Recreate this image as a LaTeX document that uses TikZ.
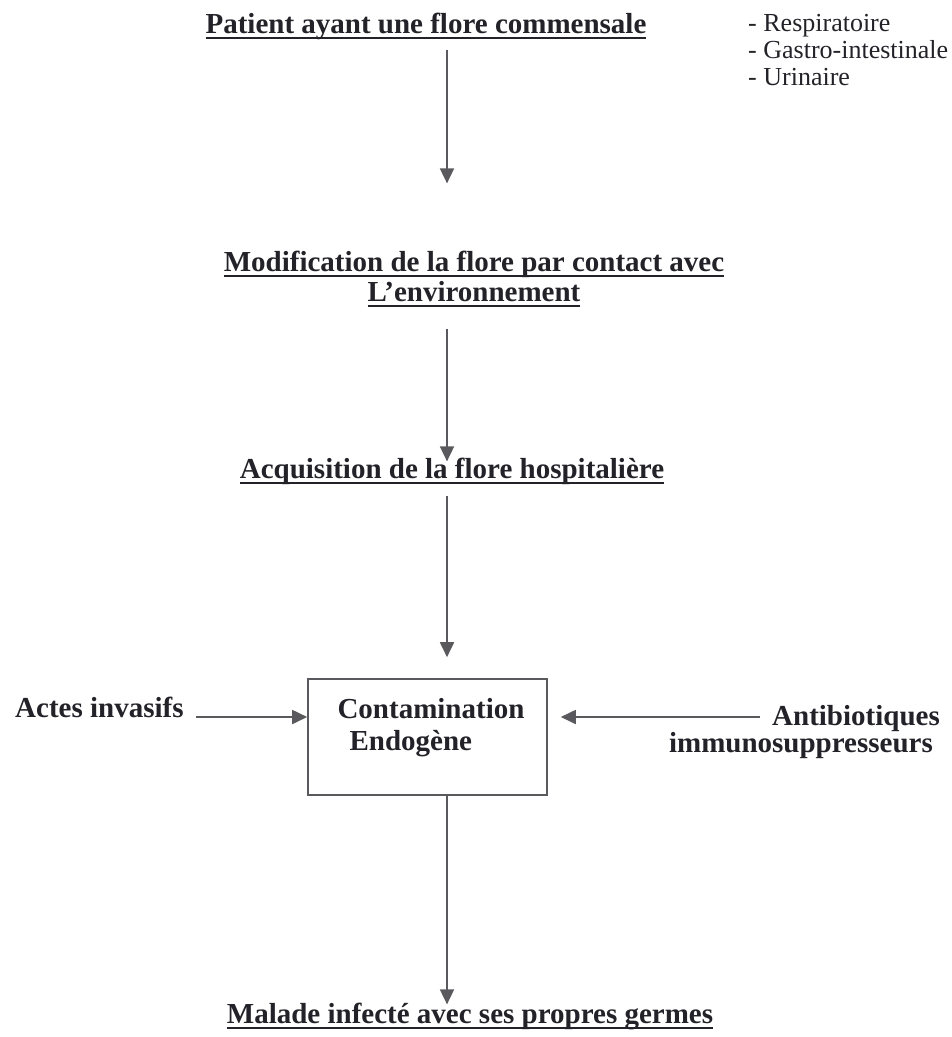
\documentclass[tikz,border=0pt]{standalone}
\usepackage{fontspec}
\setmainfont{Liberation Serif}
\usepackage{tikz}
\usetikzlibrary{positioning, arrows.meta}

\definecolor{inktext}{HTML}{222228}
\definecolor{inkline}{HTML}{5A5A5E}

% underlined bold title text
\newcommand{\ultitle}[1]{\setbox0\hbox{#1}\leavevmode\rlap{\rule[-6pt]{\wd0}{1.8pt}}\box0}

\begin{document}
\begin{tikzpicture}[x=1pt, y=-1pt, >={Triangle[length=15pt, width=14pt]},
    title/.style={anchor=base, inner sep=0pt, align=center, text=inktext,
      font=\fontsize{29}{30}\selectfont\bfseries},
    plain/.style={anchor=base west, inner sep=0pt, align=left, text=inktext,
      font=\fontsize{26}{27}\selectfont},
    side/.style={anchor=base, inner sep=0pt, text=inktext,
      font=\fontsize{29}{32}\selectfont\bfseries},
    flow/.style={->, draw=inkline, line width=1.8pt},
    cbox/.style={draw=inkline, line width=1.6pt, minimum width=239pt, minimum height=116pt, inner sep=0pt}]
    \useasboundingbox (0,0) rectangle (952,1037);
    % Nodes
    \node (Patient) [title] at (426,33) {\ultitle{Patient ayant une flore commensale}};
    \node (Flores) [plain] at (748,85) {- Respiratoire\\- Gastro-intestinale\\- Urinaire};
    \node (Modif) [title] at (474,301) {\ultitle{Modification de la flore par contact avec}\\\ultitle{L’environnement}};
    \node (Acquis) [title] at (452,478) {\ultitle{Acquisition de la flore hospitalière}};
    \node (Contam) [cbox] at (427.5,737) {};
    \node (ContamTxt) [side, align=left] at (431,750) {Contamination\\\hspace*{12pt}Endogène};
    \node (Actes) [side, anchor=base west] at (15,717) {Actes invasifs};
    \node (Antibio) [side, anchor=base east] at (940,725) {Antibiotiques};
    \node (Immuno) [side, anchor=base east] at (933,752) {immunosuppresseurs};
    \node (Malade) [title] at (470,1023) {\ultitle{Malade infecté avec ses propres germes}};
    \coordinate (spine) at (447,0);
    \coordinate (row) at (0,717);

    % Arrows
    \draw[flow, shorten <=11pt, shorten >=67pt] (Patient.south -| spine) -- (Modif.north -| spine);
    \draw[flow, shorten <=22pt, shorten >=-4pt] (Modif.south -| spine) -- (Acquis.north -| spine);
    \draw[flow, shorten <=12pt, shorten >=21pt] (Acquis.south -| spine) -- (Contam.north -| spine);
    \draw[flow, shorten <=12pt] (Actes.east |- row) -- (Contam.west |- row);
    \draw[flow, shorten <=12pt, shorten >=13pt] (Antibio.west |- row) -- (Contam.east |- row);
    \draw[flow, shorten >=-2pt] (Contam.south -| spine) -- (Malade.north -| spine);
\end{tikzpicture}
\end{document}
